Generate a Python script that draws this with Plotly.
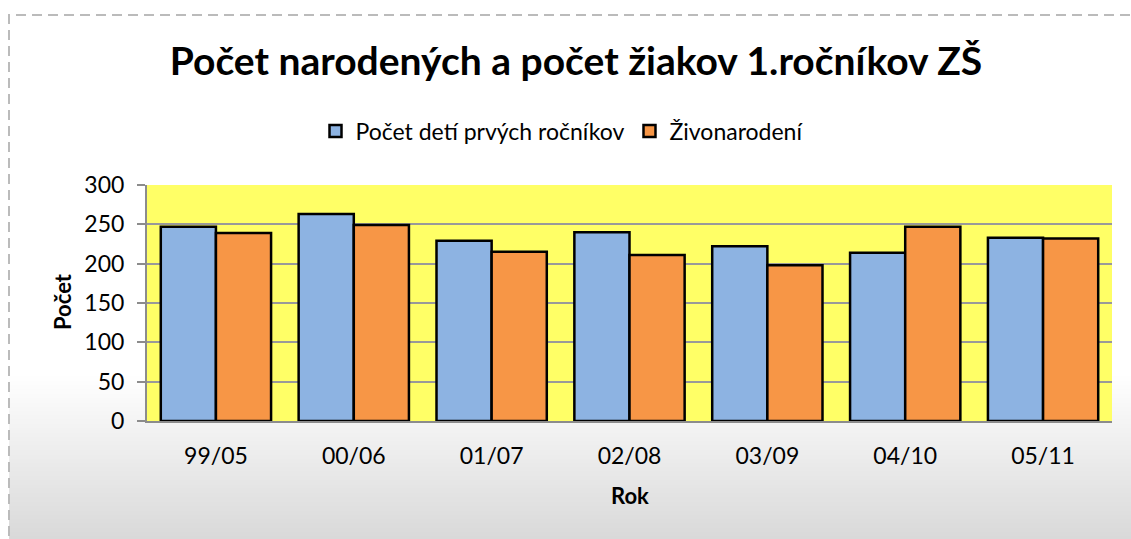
import plotly.graph_objects as go

categories = ["99/05", "00/06", "01/07", "02/08", "03/09", "04/10", "05/11"]
prvaci = [247, 263, 229, 240, 222, 214, 233]
zivonarodeni = [239, 249, 215, 211, 198, 247, 232]
series_names = ["Počet detí prvých ročníkov", "Živonarodení"]
y_ticks = [0, 50, 100, 150, 200, 250, 300]

W, H = 1131, 539
L, R, T, B = 147, 1112, 185, 421
FONT = "Lato"

fig = go.Figure()
fig.add_trace(go.Bar(x=categories, y=prvaci, name=series_names[0],
                     marker=dict(color="#8DB3E2", line=dict(color="black", width=2.5))))
fig.add_trace(go.Bar(x=categories, y=zivonarodeni, name=series_names[1],
                     marker=dict(color="#F79646", line=dict(color="black", width=2.5))))

def px_to_paper_y(py):
    return (B - py) / (B - T)

def px_to_paper_x(px):
    return (px - L) / (R - L)

shapes = []
n = 40
g_top, g_bot = 372, 545
for i in range(n):
    y0 = g_top + (g_bot - g_top) * i / n
    y1 = g_top + (g_bot - g_top) * (i + 1) / n + 1
    t = (i + 0.5) / n
    c = int(round(255 - (255 - 216) * t))
    shapes.append(dict(type="rect", xref="paper", yref="paper", layer="below",
                       x0=px_to_paper_x(9), x1=px_to_paper_x(1140),
                       y0=px_to_paper_y(y1), y1=px_to_paper_y(y0),
                       fillcolor=f"rgb({c},{c},{c})", line=dict(width=0)))
shapes.append(dict(type="rect", xref="paper", yref="paper", layer="below",
                   x0=0, x1=1, y0=0, y1=1, fillcolor="#FFFF66", line=dict(width=0)))
shapes.append(dict(type="rect", xref="paper", yref="paper", layer="above",
                   x0=px_to_paper_x(9), x1=px_to_paper_x(1145),
                   y0=px_to_paper_y(560), y1=px_to_paper_y(15),
                   fillcolor="rgba(0,0,0,0)", line=dict(color="#BBBBBB", width=2, dash="10px,6px")))

annotations = [
    dict(text="<b>Počet</b>", xref="paper", yref="paper",
         x=px_to_paper_x(62), y=px_to_paper_y(302), xanchor="center", yanchor="middle",
         textangle=-90, showarrow=False, font=dict(family=FONT, size=22, color="black")),
    dict(text="<b>Rok</b>", xref="paper", yref="paper",
         x=px_to_paper_x(630), y=px_to_paper_y(495), xanchor="center", yanchor="middle",
         showarrow=False, font=dict(family=FONT, size=22, color="black")),
]

fig.update_layout(
    width=W, height=H,
    margin=dict(l=L, r=W - R, t=T, b=H - B, pad=0, autoexpand=False),
    paper_bgcolor="white",
    plot_bgcolor="rgba(0,0,0,0)",
    barmode="group",
    bargap=0.2,
    bargroupgap=0,
    font=dict(family=FONT, color="black", size=23),
    title=dict(text="<b>Počet narodených a počet žiakov 1.ročníkov ZŠ</b>",
               x=576 / W, xref="container", xanchor="center",
               y=1 - 61 / H, yref="container", yanchor="middle",
               font=dict(family=FONT, size=39, color="black")),
    showlegend=True,
    legend=dict(orientation="h", x=562 / W, xref="container", xanchor="center",
                y=px_to_paper_y(131), yanchor="middle",
                font=dict(family=FONT, size=23, color="black"),
                bgcolor="rgba(0,0,0,0)", itemwidth=30, traceorder="normal"),
    shapes=shapes,
    annotations=annotations,
    xaxis=dict(
        showline=True, linecolor="#8C8C8C", linewidth=2,
        ticks="", showgrid=False,
        tickfont=dict(family=FONT, size=23),
        ticklabelstandoff=13,
    ),
    yaxis=dict(
        range=[0, 300], tickvals=y_ticks,
        showline=True, linecolor="#8C8C8C", linewidth=2,
        ticks="outside", ticklen=8, tickcolor="#8C8C8C", tickwidth=2,
        showgrid=True, gridcolor="#999999", gridwidth=2,
        zeroline=False,
        tickfont=dict(family=FONT, size=23),
        ticklabelstandoff=8,
    ),
)

fig.write_html("out.html", config={"displayModeBar": False},
               post_script="document.body.style.margin='0';")
